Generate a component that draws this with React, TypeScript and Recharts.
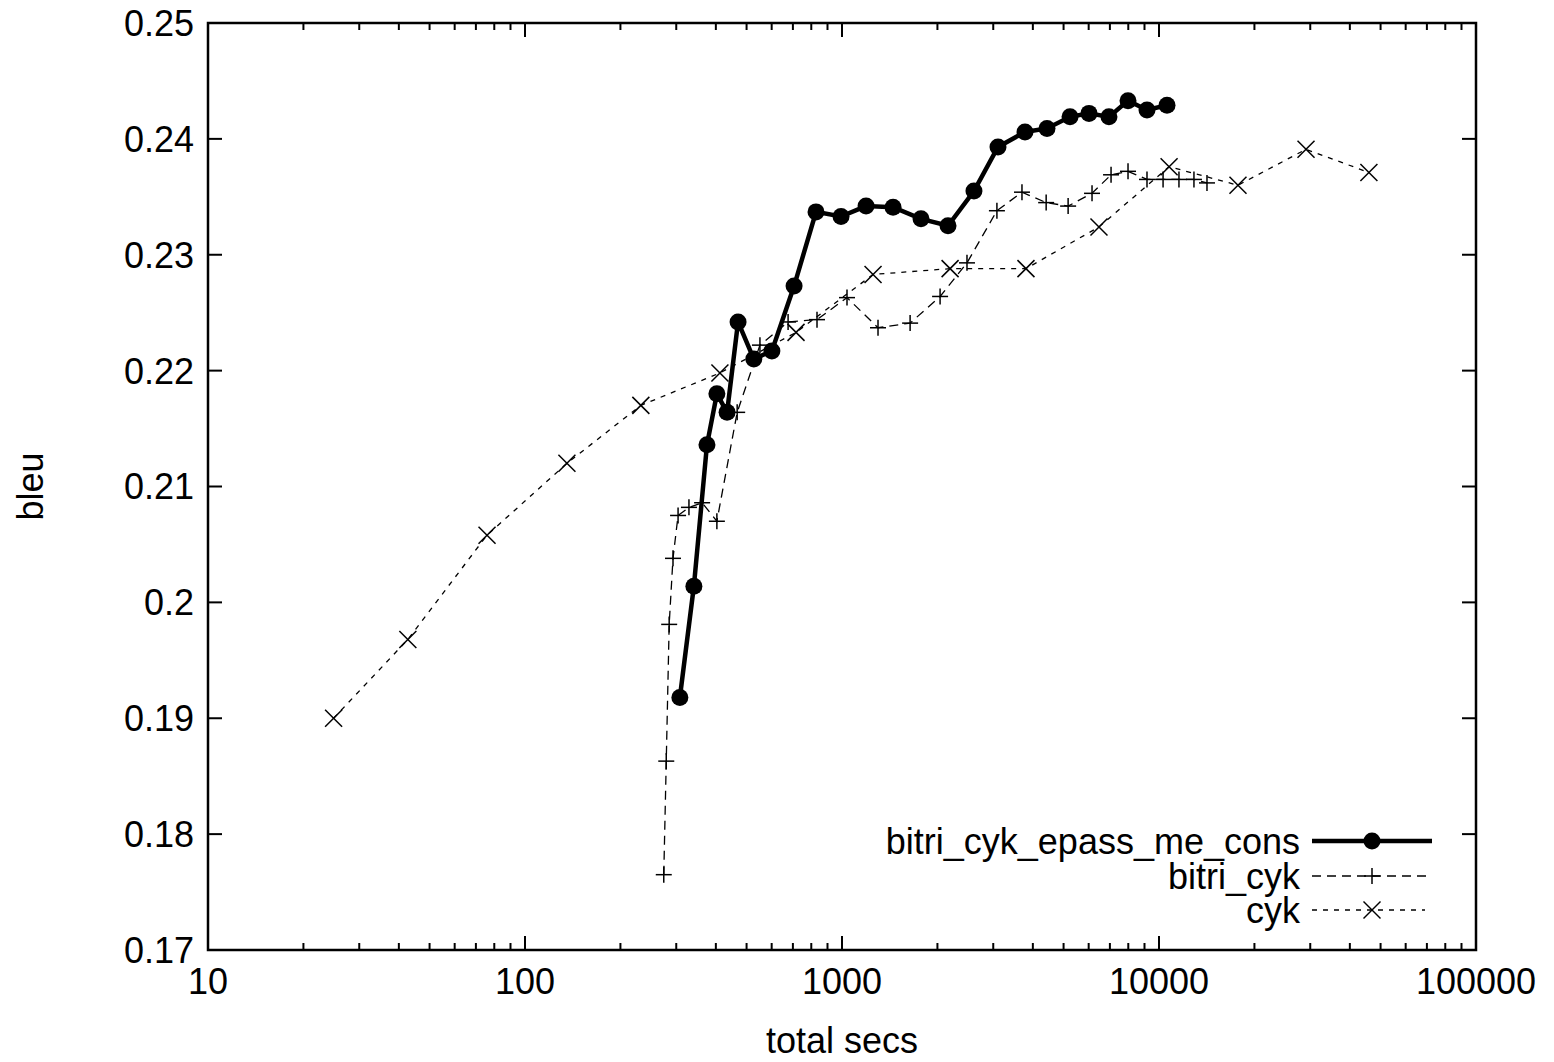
import React from "react";
import { LineChart, Line, XAxis, YAxis, ReferenceArea } from "recharts";

// bitri_cyk_epass_me_cons
const S1_X = [308, 341, 375, 403, 434, 470, 527, 601, 706, 828, 993, 1191, 1449, 1775, 2160, 2608, 3105, 3778, 4433, 5240, 6014, 6953, 7985, 9165, 10600];
const S1_Y = [0.1918, 0.2014, 0.2136, 0.218, 0.2164, 0.2242, 0.221, 0.2217, 0.2273, 0.2337, 0.2333, 0.2342, 0.2341, 0.2331, 0.2325, 0.2355, 0.2393, 0.2406, 0.2409, 0.2419, 0.2422, 0.2419, 0.2433, 0.2425, 0.2429];

// bitri_cyk
const S2_X = [274, 279, 285, 293, 304, 329, 362, 403, 467, 551, 676, 834, 1037, 1299, 1640, 2039, 2479, 3081, 3696, 4406, 5168, 6148, 7059, 7985, 9165, 10300, 11560, 12890, 14170];
const S2_Y = [0.1765, 0.1863, 0.1981, 0.2038, 0.2075, 0.2082, 0.2086, 0.207, 0.2164, 0.2222, 0.2242, 0.2244, 0.2263, 0.2237, 0.2241, 0.2264, 0.2293, 0.2338, 0.2354, 0.2345, 0.2342, 0.2353, 0.2369, 0.2372, 0.2365, 0.2365, 0.2365, 0.2365, 0.2362];

// cyk
const S3_X = [24.9, 42.7, 75.9, 135.6, 232, 412, 716, 1253, 2193, 3805, 6467, 10760, 17750, 29090, 45930];
const S3_Y = [0.19, 0.1968, 0.2058, 0.212, 0.217, 0.2198, 0.2233, 0.2283, 0.2288, 0.2288, 0.2324, 0.2376, 0.236, 0.2391, 0.2371];

const SERIES_NAMES = ["bitri_cyk_epass_me_cons", "bitri_cyk", "cyk"];

const X_MAJOR = [10, 100, 1000, 10000, 100000];
const X_MINOR_STEPS = [2, 3, 4, 5, 6, 7, 8, 9];
const Y_TICKS = [0.17, 0.18, 0.19, 0.2, 0.21, 0.22, 0.23, 0.24, 0.25];

const W = 1554;
const H = 1062;
const M = { top: 23, right: 78, left: 0, bottom: 0 };
const Y_AXIS_W = 208;
const X_AXIS_H = 112;
const PLOT_W = W - M.right - Y_AXIS_W;
const PLOT_H = H - M.top - X_AXIS_H;
const FONT = "'Liberation Sans', Arial, sans-serif";
const FS = 36;

const zip = (xs: number[], ys: number[]) => xs.map((x, i) => ({ x, y: ys[i] }));
const d1 = zip(S1_X, S1_Y);
const d2 = zip(S2_X, S2_Y);
const d3 = zip(S3_X, S3_Y);

const xTicks: number[] = [];
X_MAJOR.forEach((m, i) => {
  xTicks.push(m);
  if (i < X_MAJOR.length - 1) X_MINOR_STEPS.forEach((s) => xTicks.push(m * s));
});

const isMajor = (v: number) => X_MAJOR.some((m) => Math.abs(m - v) < 1e-6);

function YTick(props: any) {
  const { x, y, payload } = props;
  const ax = x + 16;
  const label = String(Number(payload.value.toFixed(2)));
  return (
    <g>
      <line x1={ax} x2={ax + 14} y1={y} y2={y} stroke="#000" strokeWidth={2} />
      <line x1={ax + PLOT_W - 14} x2={ax + PLOT_W} y1={y} y2={y} stroke="#000" strokeWidth={2} />
      <text x={x + 2} y={y} dy="0.36em" textAnchor="end" fontSize={FS} fontFamily={FONT} fill="#000">
        {label}
      </text>
    </g>
  );
}

function XTick(props: any) {
  const { x, y, payload } = props;
  const ay = y - 16;
  const major = isMajor(payload.value);
  const len = major ? 14 : 7;
  return (
    <g>
      <line x1={x} x2={x} y1={ay} y2={ay - len} stroke="#000" strokeWidth={2} />
      <line x1={x} x2={x} y1={ay - PLOT_H} y2={ay - PLOT_H + len} stroke="#000" strokeWidth={2} />
      {major && (
        <text x={x} y={ay + 31} dy="0.36em" textAnchor="middle" fontSize={FS} fontFamily={FONT} fill="#000">
          {String(payload.value)}
        </text>
      )}
    </g>
  );
}

function XLabel(props: any) {
  const { viewBox } = props;
  return (
    <text x={viewBox.x + viewBox.width / 2} y={viewBox.y + viewBox.height - 9} textAnchor="middle" fontSize={FS} fontFamily={FONT} fill="#000">
      total secs
    </text>
  );
}

function YLabel(props: any) {
  const { viewBox } = props;
  const cx = 30;
  const cy = viewBox.y + viewBox.height / 2;
  return (
    <text x={cx} y={cy} dy="0.36em" transform={`rotate(-90, ${cx}, ${cy})`} textAnchor="middle" fontSize={FS} fontFamily={FONT} fill="#000">
      bleu
    </text>
  );
}

function CircleDot(props: any) {
  const { cx, cy } = props;
  return <circle cx={cx} cy={cy} r={8.5} fill="#000" />;
}

function PlusDot(props: any) {
  const { cx, cy } = props;
  const s = 8;
  return (
    <g stroke="#000" strokeWidth={1.5}>
      <line x1={cx - s} x2={cx + s} y1={cy} y2={cy} />
      <line x1={cx} x2={cx} y1={cy - s} y2={cy + s} />
    </g>
  );
}

function CrossDot(props: any) {
  const { cx, cy } = props;
  const s = 8.5;
  return (
    <g stroke="#000" strokeWidth={1.5}>
      <line x1={cx - s} x2={cx + s} y1={cy - s} y2={cy + s} />
      <line x1={cx - s} x2={cx + s} y1={cy + s} y2={cy - s} />
    </g>
  );
}

function LegendBox() {
  const rows = [
    { name: SERIES_NAMES[0], y: 841, dash: undefined, w: 4.5, mark: <CircleDot cx={60} cy={0} />, end: 120 },
    { name: SERIES_NAMES[1], y: 876, dash: "9 6", w: 1.3, mark: <PlusDot cx={60} cy={0} />, end: 120 },
    { name: SERIES_NAMES[2], y: 910, dash: "5 6", w: 1.3, mark: <CrossDot cx={60} cy={0} />, end: 113 },
  ];
  return (
    <svg width={W} height={H} style={{ position: "absolute", left: 0, top: 0, pointerEvents: "none" }}>
      {rows.map((r) => (
        <g key={r.name}>
          <text x={1300} y={r.y} dy="0.36em" textAnchor="end" fontSize={FS} fontFamily={FONT} fill="#000">
            {r.name}
          </text>
          <g transform={`translate(1312, ${r.y})`}>
            <line x1={0} x2={r.end} y1={0} y2={0} stroke="#000" strokeWidth={r.w} strokeDasharray={r.dash} />
            {r.mark}
          </g>
        </g>
      ))}
    </svg>
  );
}

export default function App() {
  return (
    <div style={{ position: "relative", width: W, height: H, background: "#fff" }}>
      <style>{`body{margin:0}`}</style>
      <LineChart width={W} height={H} margin={M}>
        <XAxis
          dataKey="x"
          type="number"
          scale="log"
          domain={[10, 100000]}
          ticks={xTicks}
          interval={0}
          allowDataOverflow
          axisLine={false}
          tickLine={false}
          tickSize={0}
          tickMargin={16}
          height={X_AXIS_H}
          tick={<XTick />}
          label={<XLabel />}
        />
        <YAxis
          dataKey="y"
          type="number"
          domain={[0.17, 0.25]}
          ticks={Y_TICKS}
          interval={0}
          allowDataOverflow
          axisLine={false}
          tickLine={false}
          tickSize={0}
          tickMargin={16}
          width={Y_AXIS_W}
          tick={<YTick />}
          label={<YLabel />}
        />
        <ReferenceArea x1={10} x2={100000} y1={0.17} y2={0.25} fill="none" stroke="#000" strokeWidth={2.5} ifOverflow="visible" />
        <Line data={d3} dataKey="y" stroke="#000" strokeWidth={1.3} strokeDasharray="5 6" dot={<CrossDot />} isAnimationActive={false} />
        <Line data={d2} dataKey="y" stroke="#000" strokeWidth={1.3} strokeDasharray="9 6" dot={<PlusDot />} isAnimationActive={false} />
        <Line data={d1} dataKey="y" stroke="#000" strokeWidth={4.5} dot={<CircleDot />} isAnimationActive={false} />
      </LineChart>
      <LegendBox />
    </div>
  );
}
